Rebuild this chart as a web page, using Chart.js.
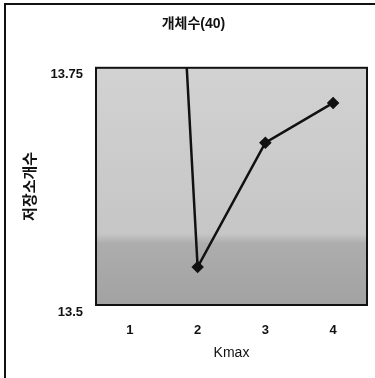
<!DOCTYPE html>
<html lang="ko">
<head>
  <meta charset="UTF-8">
  <title>개체수(40)</title>
  <script src="https://cdn.jsdelivr.net/npm/chart.js"></script>
  <style>
    body { margin: 0; background: #ffffff; }
    #wrap { width: 375px; height: 378px; }
  </style>
</head>
<body>
  <div id="wrap"><canvas id="kmaxChart" width="375" height="378"></canvas></div>

  <script>
    // values
    const categories = ['1', '2', '3', '4'];
    const storageCounts = [14.85, 13.54, 13.671, 13.713];
    const yTicks = [13.5, 13.75];

    const FONT = "'Liberation Sans', Arial, 'Noto Sans CJK KR', sans-serif";

    // gray plot background + frames
    const framePlugin = {
      id: 'frame',
      beforeDatasetsDraw(chart) {
        const { ctx, chartArea: a } = chart;
        const g = ctx.createLinearGradient(0, a.top, 0, a.bottom);
        g.addColorStop(0, '#d2d2d2');
        g.addColorStop(0.7, '#c6c6c6');
        g.addColorStop(0.74, '#adadad');
        g.addColorStop(1, '#a2a2a2');
        ctx.save();
        ctx.fillStyle = g;
        ctx.fillRect(a.left, a.top, a.right - a.left, a.bottom - a.top);
        ctx.restore();
      },
      afterDraw(chart) {
        const { ctx, chartArea: a } = chart;
        ctx.save();
        ctx.strokeStyle = '#111';
        ctx.lineWidth = 2;
        ctx.strokeRect(a.left, a.top, a.right - a.left, a.bottom - a.top);
        // outer box (top and left edges only show)
        ctx.beginPath();
        ctx.moveTo(375, 4);
        ctx.lineTo(5, 4);
        ctx.lineTo(5, 378);
        ctx.stroke();
        ctx.restore();
      }
    };

    new Chart(document.getElementById('kmaxChart').getContext('2d'), {
      type: 'line',
      data: {
        labels: categories,
        datasets: [{
          data: storageCounts,
          borderColor: '#111',
          borderWidth: 2.5,
          pointStyle: 'rectRot',
          pointRadius: 4.5,
          pointBackgroundColor: '#111',
          pointBorderColor: '#111',
          tension: 0
        }]
      },
      options: {
        responsive: false,
        animation: false,
        layout: { padding: { left: 20, right: 8, top: 0, bottom: 13 } },
        plugins: {
          legend: { display: false },
          tooltip: { enabled: false },
          title: {
            display: true,
            text: '개체수(40)',
            color: '#111',
            font: { family: FONT, size: 14, weight: 'bold' },
            padding: { top: 16, bottom: 35 }
          }
        },
        scales: {
          x: {
            offset: true,
            grid: { display: false, drawTicks: false },
            border: { display: false },
            ticks: { color: '#111', padding: 18, font: { family: FONT, size: 13, weight: 'bold' } },
            title: { display: true, text: 'Kmax', color: '#111', padding: { top: 4, bottom: 3 },
                     font: { family: FONT, size: 14 } },
            afterFit(s) { s.height = 378 - 305 - 13; }
          },
          y: {
            min: 13.5,
            max: 13.75,
            grid: { display: false, drawTicks: false },
            border: { display: false },
            afterBuildTicks(s) { s.ticks = yTicks.map(v => ({ value: v })); },
            ticks: {
              color: '#111',
              padding: 13,
              labelOffset: 7,
              font: { family: FONT, size: 13, weight: 'bold' },
              callback: v => String(v)
            },
            title: { display: true, text: '저장소개수', color: '#111', padding: { top: 2, bottom: 4 },
                     font: { family: FONT, size: 15, weight: 'bold' } },
            afterFit(s) { s.width = 96 - 20; }
          }
        }
      },
      plugins: [framePlugin]
    });
  </script>
</body>
</html>
